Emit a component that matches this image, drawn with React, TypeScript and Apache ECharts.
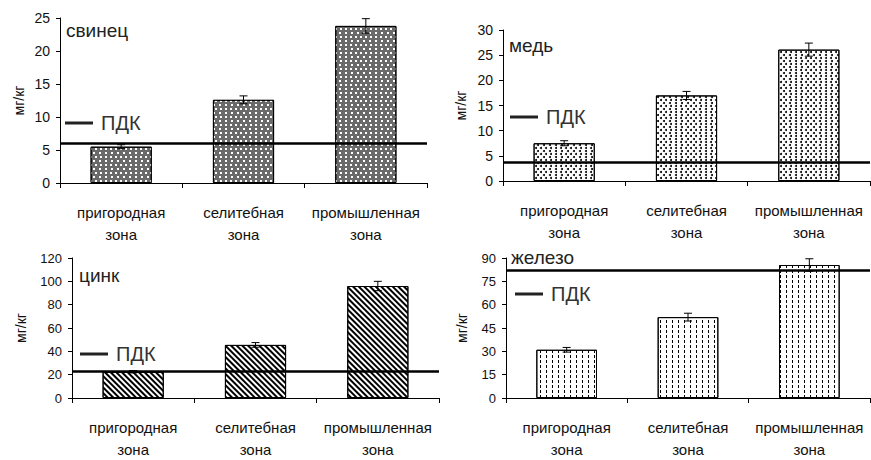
import React, { useEffect, useRef } from "react";
import * as echarts from "echarts";

const categories = ["пригородная\nзона", "селитебная\nзона", "промышленная\nзона"];
const elementNames = ["свинец", "медь", "цинк", "железо"];
const pdkLabel = "ПДК";
const unitLabel = "мг/кг";

const leadValues = [5.5, 12.6, 23.8];
const leadErrors = [0.3, 0.6, 1.1];
const copperValues = [7.5, 17.0, 26.1];
const copperErrors = [0.5, 0.8, 1.3];
const zincValues = [22.5, 45.5, 96];
const zincErrors = [1, 2, 4];
const ironValues = [31, 52, 85.5];
const ironErrors = [1.5, 2.5, 4];

const pdkValues = [6, 3.7, 23, 82];
const yMaxValues = [25, 30, 120, 90];
const yIntervals = [5, 5, 20, 15];

const FONT = "'Liberation Sans', Arial, sans-serif";

const panels = [
  { values: leadValues, errors: leadErrors },
  { values: copperValues, errors: copperErrors },
  { values: zincValues, errors: zincErrors },
  { values: ironValues, errors: ironErrors },
];

const gridLayout = [
  { left: 60, top: 18, width: 367, height: 165 },
  { left: 503, top: 30, width: 367, height: 151 },
  { left: 72, top: 258, width: 367, height: 149 },
  { left: 506, top: 258, width: 364, height: 147 },
];
const tickFont = [14, 14, 13, 13];
const nameGaps = [34, 35, 44, 37];
const titlePos = [
  { left: 66, top: 21 },
  { left: 509, top: 36 },
  { left: 79, top: 266 },
  { left: 511, top: 248 },
];
const legendPos = [
  { left: 65, top: 113 },
  { left: 510, top: 107 },
  { left: 80, top: 344 },
  { left: 515, top: 284 },
];

const barStyles: any[] = [
  {
    color: "#6a6a6a",
    decal: { color: "#ffffff", symbol: "rect", symbolSize: 1, dashArrayX: [[1.5, 3], [0, 2.25, 1.5, 0.75]], dashArrayY: [1.5, 1.5] },
  },
  {
    color: "#ffffff",
    decal: { color: "#000000", symbol: "circle", symbolSize: 1, dashArrayX: [[2, 2.5], [0, 2.25, 2, 0.25]], dashArrayY: [2, 1] },
  },
  {
    color: "#ffffff",
    decal: { color: "#000000", symbol: "rect", symbolSize: 1, dashArrayX: [1, 0], dashArrayY: [1.6, 1.6], rotation: Math.PI / 4 },
  },
  {
    color: "#ffffff",
    decal: { color: "#000000", symbol: "rect", symbolSize: 1, dashArrayX: [1, 5], dashArrayY: [2.5, 2] },
  },
];

function errorSeries(idx: number, values: number[], errors: number[]) {
  return {
    type: "custom",
    xAxisIndex: idx,
    yAxisIndex: idx,
    silent: true,
    z: 10,
    data: values.map((v, i) => [i, v - errors[i], v + errors[i]]),
    encode: { x: 0, y: [1, 2] },
    renderItem: (params: any, api: any) => {
      const x = api.value(0);
      const lo = api.coord([x, api.value(1)]);
      const hi = api.coord([x, api.value(2)]);
      const hw = 4;
      const style = { stroke: "#000", lineWidth: 1 };
      return {
        type: "group",
        children: [
          { type: "line", shape: { x1: hi[0], y1: hi[1], x2: lo[0], y2: lo[1] }, style },
          { type: "line", shape: { x1: hi[0] - hw, y1: hi[1], x2: hi[0] + hw, y2: hi[1] }, style },
          { type: "line", shape: { x1: lo[0] - hw, y1: lo[1], x2: lo[0] + hw, y2: lo[1] }, style },
        ],
      };
    },
  };
}

export default function App() {
  const ref = useRef<HTMLDivElement>(null);
  useEffect(() => {
    if (!ref.current) return;
    const chart = echarts.init(ref.current, undefined, { renderer: "svg" });
    const series: any[] = [];
    panels.forEach((p, i) => {
      series.push({
        type: "bar",
        name: elementNames[i],
        xAxisIndex: i,
        yAxisIndex: i,
        data: p.values,
        barWidth: "50%",
        itemStyle: { ...barStyles[i], borderColor: "#000", borderWidth: 1 },
        z: 2,
      });
      series.push({
        type: "line",
        name: pdkLabel,
        xAxisIndex: i,
        yAxisIndex: i,
        data: [],
        color: "#222",
        z: 5,
        markLine: {
          silent: true,
          symbol: ["none", "none"],
          label: { show: false },
          lineStyle: { color: "#000", width: 2.5, type: "solid" },
          data: [{ yAxis: pdkValues[i] }],
        },
      });
      series.push(errorSeries(i, p.values, p.errors));
    });

    const option: any = {
      animation: false,
      backgroundColor: "#fff",
      textStyle: { fontFamily: FONT },
      graphic: elementNames.map((n, i) => ({
        type: "text",
        left: titlePos[i].left,
        top: titlePos[i].top,
        z: 20,
        style: { text: n, fontFamily: FONT, fontSize: 19, fontWeight: "normal", fill: "#222" },
      })),
      legend: legendPos.map((lp) => ({
        data: [{ name: pdkLabel, icon: "rect" }],
        left: lp.left,
        top: lp.top,
        padding: 0,
        itemWidth: 28,
        itemHeight: 3,
        selectedMode: false,
        textStyle: { fontFamily: FONT, fontSize: 20, color: "#333", padding: [0, 0, 0, 3] },
      })),
      grid: gridLayout.map((g) => ({ ...g })),
      xAxis: gridLayout.map((_, i) => ({
        type: "category",
        gridIndex: i,
        data: categories,
        axisLine: { lineStyle: { color: "#000", width: 1 } },
        axisTick: { show: true, length: 5, lineStyle: { color: "#000" } },
        axisLabel: { fontFamily: FONT, fontSize: 15, lineHeight: 22, color: "#111", margin: 18, interval: 0 },
        splitLine: { show: false },
      })),
      yAxis: gridLayout.map((_, i) => ({
        type: "value",
        gridIndex: i,
        min: 0,
        max: yMaxValues[i],
        interval: yIntervals[i],
        name: unitLabel,
        nameLocation: "middle",
        nameGap: nameGaps[i],
        nameTextStyle: { fontFamily: FONT, fontSize: 14, color: "#111" },
        axisLine: { show: true, lineStyle: { color: "#000", width: 1 } },
        axisTick: { show: true, length: 4, lineStyle: { color: "#000" } },
        axisLabel: { fontFamily: FONT, fontSize: tickFont[i], color: "#111", margin: 10 },
        splitLine: { show: false },
      })),
      series,
    };
    chart.setOption(option);
    return () => chart.dispose();
  }, []);
  return <div ref={ref} style={{ width: 871, height: 460, position: "absolute", left: 0, top: 0 }} />;
}
